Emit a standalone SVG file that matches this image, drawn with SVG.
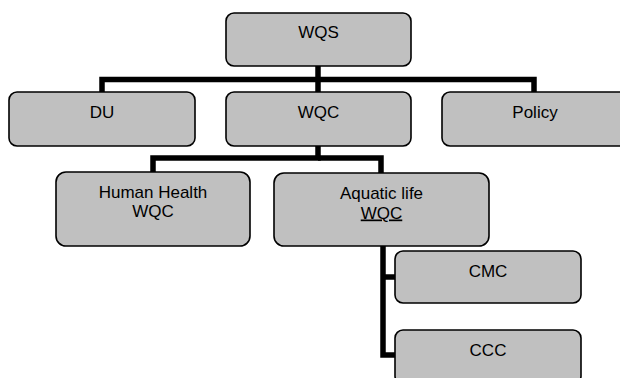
<svg xmlns="http://www.w3.org/2000/svg" width="620" height="378" viewBox="0 0 620 378">
<style>
.box{fill:#c0c0c0;stroke:#000;stroke-width:1.6}
.t{font-family:"Liberation Sans",Arial,sans-serif;font-size:17px;fill:#000;text-anchor:middle}
.c{fill:none;stroke:#000;stroke-width:5.5;stroke-linejoin:miter;stroke-linecap:butt}
</style>
<rect width="620" height="378" fill="#fff"/>
<g id="connectors">
<path class="c" d="M318,66 V92"/>
<path class="c" d="M102,92 V79.5 H534 V92"/>
<path class="c" d="M318,146 V158 H153 V172"/>
<path class="c" d="M318,158 H381 V173"/>
<path class="c" d="M383,246 V355 H395"/>
<path class="c" d="M383,277 H395"/>
</g>
<g id="wqs"><rect class="box" x="226" y="13" width="185" height="53" rx="8"/><text class="t" x="318.5" y="37.5">WQS</text></g>
<g id="du"><rect class="box" x="9" y="92" width="186" height="54" rx="8"/><text class="t" x="102" y="117.5">DU</text></g>
<g id="wqc"><rect class="box" x="226" y="92" width="185" height="54" rx="8"/><text class="t" x="318.5" y="117.5">WQC</text></g>
<g id="policy"><rect class="box" x="442" y="92" width="186" height="54" rx="8"/><text class="t" x="535" y="117.5">Policy</text></g>
<g id="human-health"><rect class="box" x="56" y="172" width="194" height="74" rx="10"/><text class="t" x="153" y="197.5">Human Health</text><text class="t" x="153" y="217">WQC</text></g>
<g id="aquatic-life"><rect class="box" x="274" y="173" width="215" height="73" rx="10"/><text class="t" x="381.5" y="199">Aquatic life</text><text class="t" x="381.5" y="218.5" text-decoration="underline">WQC</text></g>
<g id="cmc"><rect class="box" x="395" y="251" width="186" height="52" rx="8"/><text class="t" x="488" y="276.5">CMC</text></g>
<g id="ccc"><rect class="box" x="395" y="330" width="186" height="54" rx="8"/><text class="t" x="488" y="355.5">CCC</text></g>
</svg>
